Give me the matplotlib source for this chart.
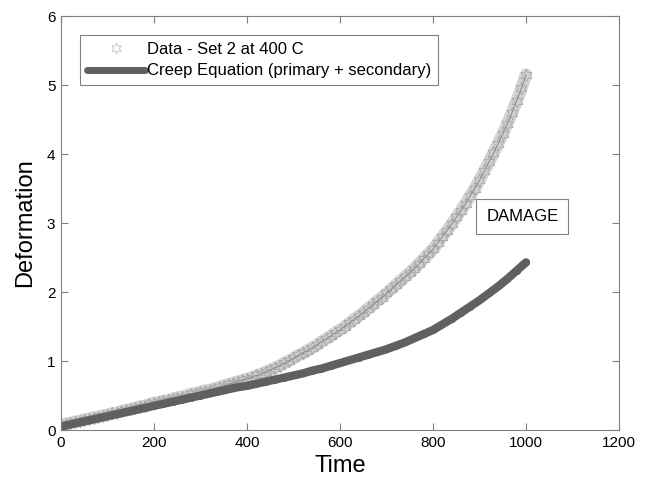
import numpy as np
import matplotlib
matplotlib.use('Agg')
import matplotlib.pyplot as plt
from matplotlib.lines import Line2D

plt.rcParams['font.family'] = ['Liberation Sans', 'DejaVu Sans']

# Экспериментальные данные (Set 2, 400 C), шаг 10
t_data = list(range(0, 1001, 10))
def_data = [0.07, 0.09, 0.10, 0.12, 0.13, 0.15, 0.16, 0.18, 0.19, 0.21, 0.22,
            0.24, 0.25, 0.27, 0.29, 0.30, 0.32, 0.34, 0.35, 0.37, 0.39,
            0.40, 0.42, 0.43, 0.45, 0.47, 0.48, 0.50, 0.52, 0.53, 0.55,
            0.57, 0.58, 0.60, 0.62, 0.64, 0.66, 0.68, 0.70, 0.72, 0.74,
            0.76, 0.79, 0.81, 0.84, 0.87, 0.90, 0.93, 0.97, 1.00, 1.04,
            1.08, 1.11, 1.15, 1.19, 1.23, 1.28, 1.32, 1.36, 1.41, 1.45,
            1.50, 1.55, 1.60, 1.65, 1.70, 1.76, 1.81, 1.87, 1.92, 1.98,
            2.04, 2.10, 2.16, 2.22, 2.28, 2.34, 2.41, 2.48, 2.55, 2.62,
            2.71, 2.80, 2.89, 2.98, 3.08, 3.18, 3.28, 3.39, 3.50, 3.62,
            3.75, 3.88, 4.01, 4.15, 4.29, 4.44, 4.60, 4.77, 4.95, 5.15]

# Уравнение ползучести (primary + secondary), шаг 20
t_creep = list(range(0, 1001, 20))
def_creep = [0.05, 0.08, 0.11, 0.14, 0.17, 0.20, 0.23, 0.26, 0.29, 0.32, 0.35,
             0.38, 0.41, 0.44, 0.47, 0.50, 0.53, 0.56, 0.59, 0.62, 0.64,
             0.67, 0.70, 0.73, 0.76, 0.79, 0.82, 0.86, 0.89, 0.93, 0.97,
             1.01, 1.05, 1.09, 1.13, 1.17, 1.22, 1.27, 1.33, 1.39, 1.45,
             1.53, 1.61, 1.70, 1.79, 1.88, 1.98, 2.08, 2.19, 2.31, 2.43]

star = (6, 1, 0)  # шестиконечная звезда как в MATLAB

fig = plt.figure(figsize=(6.46, 4.78), dpi=100)
ax = fig.add_axes([0.0944, 0.1004, 0.8638, 0.8661])

# полоса из плотных маркеров
ax.plot(t_data, def_data, color='#d2d2d2', lw=9, solid_capstyle='round')
ax.plot(t_data, def_data, ls='none', marker=star, ms=9,
        mfc='none', mec='#a8a8a8', mew=0.6)
ax.plot(t_data, def_data, color='#8c8c8c', lw=0.8)
ax.plot(t_creep, def_creep, color='#606060', lw=6, marker='o', ms=4,
        mfc='#606060', mec='#606060', solid_capstyle='round')

ax.set_xlim(0, 1200)
ax.set_ylim(0, 6)
ax.set_xticks(range(0, 1201, 200))
ax.set_yticks(range(0, 7))
ax.tick_params(direction='in', length=5, top=True, right=True, labelsize=11,
               color='#808080', pad=4)
for s in ax.spines.values():
    s.set_color('#808080')

ax.set_xlabel('Time', fontsize=17, labelpad=4)
ax.set_ylabel('Deformation', fontsize=17, labelpad=8)

handles = [Line2D([], [], ls='none', marker=star, ms=8, mfc='none',
                  mec='#c0c0c0', mew=0.6),
           Line2D([], [], color='#606060', lw=5, solid_capstyle='round')]
labels = ['Data - Set 2 at 400 C', 'Creep Equation (primary + secondary)']
leg = ax.legend(handles, labels, loc='upper left',
                bbox_to_anchor=(0.034, 0.954), fontsize=12,
                fancybox=False, edgecolor='#808080', framealpha=1,
                handlelength=3.5, handletextpad=0.15, borderpad=0.4,
                borderaxespad=0, labelspacing=0.4)
leg.get_frame().set_linewidth(0.8)

ax.text(992, 3.1, 'DAMAGE', fontsize=12, ha='center', va='center',
        bbox=dict(boxstyle='square,pad=0.6', fc='white', ec='#808080', lw=0.8))

fig.savefig('out.png', dpi=100)
